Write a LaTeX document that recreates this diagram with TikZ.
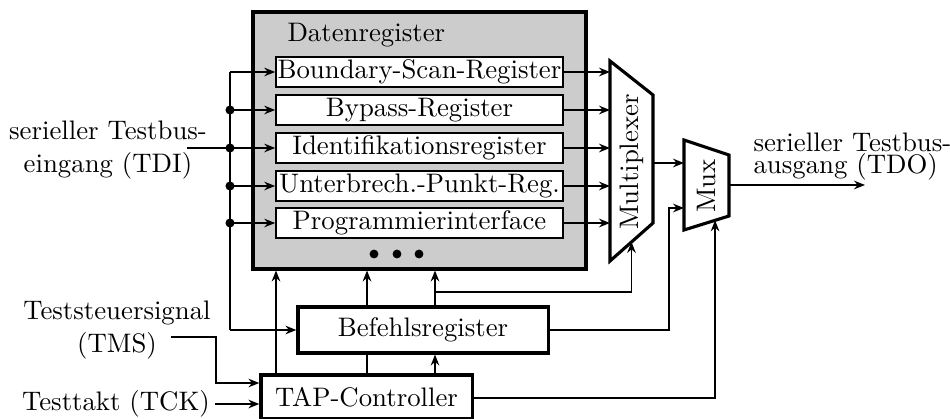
\documentclass[tikz,border=0pt]{standalone}
\usetikzlibrary{arrows.meta,calc}
\begin{document}
\begin{tikzpicture}[x=0.3846pt,y=-0.3846pt,
  font=\fontsize{10.3pt}{12.4pt}\selectfont,
  conn/.style={line width=0.6pt},
  arr/.style={conn,-{Stealth[length=4.2pt,width=3.3pt]}},
  bigbox/.style={draw,line width=1.2pt,inner sep=0pt},
  regbox/.style={draw,line width=0.6pt,fill=white,inner sep=0pt,minimum width=110.4pt,minimum height=11.5pt},
  junc/.style={fill=black,circle,inner sep=0pt,minimum size=3.5pt},
  lbl/.style={inner sep=0pt,align=center}
]
\useasboundingbox (0,0) rectangle (950,419);
% Datenregister
\node[bigbox,fill=black!20,minimum width=128.1pt,minimum height=98.8pt] (dat) at (419.5,140.5) {};
\node[anchor=base west,inner sep=0pt] (datlbl) at (287,42) {Datenregister};
\node[regbox] (r1) at (419.5,72) {Boundary-Scan-Register};
\node[regbox] (r2) at (419.5,110) {Bypass-Register};
\node[regbox] (r3) at (419.5,148) {Identifikationsregister};
\node[regbox] (r4) at (419.5,186) {Unterbrech.-Punkt-Reg.};
\node[regbox] (r5) at (419.5,223) {Programmierinterface};
\foreach \i/\x in {1/374,2/397,3/419}
  \node[fill=black,circle,inner sep=0pt,minimum size=3.4pt] (dot\i) at (\x,254) {};
% Befehlsregister and TAP
\node[bigbox,fill=white,minimum width=96.2pt,minimum height=17.7pt] (befehl) at (423,330) {Befehlsregister};
\node[bigbox,fill=white,minimum width=81.2pt,minimum height=16.9pt] (tap) at (366.5,397) {TAP-Controller};
% Multiplexer
\coordinate (m1) at (610,61);
\coordinate (m2) at (653,95);
\coordinate (m3) at (653,223);
\coordinate (m4) at (610,261);
\draw[line width=1.2pt,line join=miter] (m1) -- (m2) -- (m3) -- (m4) -- cycle;
\node[rotate=90] (mplx) at (631.5,162) {Multiplexer};
% Mux
\coordinate (n1) at (684,140);
\coordinate (n2) at (729,155);
\coordinate (n3) at (729,216);
\coordinate (n4) at (684,230);
\draw[line width=1.2pt,line join=miter] (n1) -- (n2) -- (n3) -- (n4) -- cycle;
\node[rotate=90] (mux) at (706,186) {Mux};
% labels
\node[lbl] (tdi) at (108,150) {serieller Testbus-\\eingang (TDI)};
\node[lbl] (tms) at (117,330) {Teststeuersignal\\(TMS)};
\node[lbl] (tck) at (116,404) {Testtakt (TCK)};
\node[lbl,align=left,anchor=north west] (tdo) at (753,132) {serieller Testbus-\\[-3.6pt]ausgang (TDO)};
% bus
\coordinate (tdiin) at (187,148);
\coordinate (bustop) at (230,72);
\coordinate (busbot) at (230,330);
\draw[conn] (tdiin) -- (230,148);
\draw[conn] (bustop) -- (busbot);
\draw[arr] (bustop) -- (r1.west);
\foreach \i/\y in {2/110,3/148,4/186,5/223}{
  \node[junc] (j\i) at (230,\y) {};
  \draw[arr] (j\i.center) -- (r\i.west);
}
\draw[arr] (busbot) -- (befehl.west);
% register outputs
\foreach \i in {1,...,5}
  \draw[arr] (r\i.east) -- (r\i.east -| m1);
% TAP / Befehl verticals
\draw[arr] (tap.north -| 276,0) -- (dat.south -| 276,0);
\draw[conn] (tap.north -| 367,0) -- (befehl.south -| 367,0);
\draw[arr] (befehl.north -| 367,0) -- (dat.south -| 367,0);
\draw[arr] (tap.north -| 435,0) -- (befehl.south -| 435,0);
\draw[arr] (befehl.north -| 435,0) -- (dat.south -| 435,0);
\coordinate (brk) at (435,292);
\draw[arr] (brk) -| ($(m4)!0.5!(m3)$);
% to Mux
\draw[arr] (653,163) -- (684,163);
\draw[arr] (befehl.east) -| (669,208) -- (684,208);
\draw[arr] (tap.east |- 0,398) -| ($(n4)!0.69!(n3)$);
\coordinate (tdoout) at (865,185);
\draw[arr] (729,185) -- (tdoout);
% TMS, TCK
\coordinate (tmsout) at (171,337);
\draw[arr] (tmsout) -- (216,337) |- (tap.west |- 0,383);
\coordinate (tckout) at (215,404);
\draw[arr] (tckout) -- (tap.west |- tckout);
\end{tikzpicture}
\end{document}
